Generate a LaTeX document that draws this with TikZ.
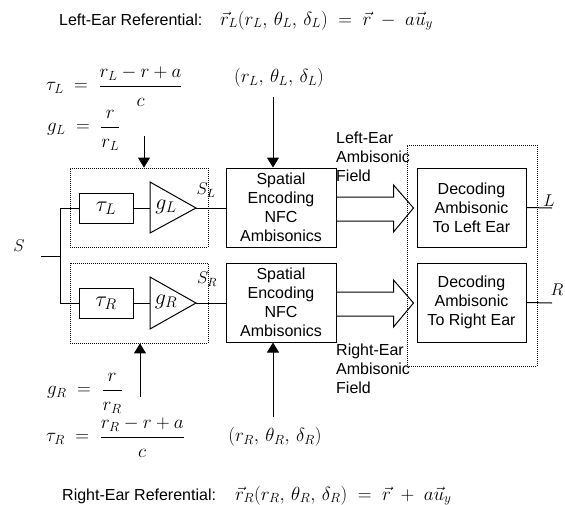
\RequirePackage{fix-cm}
\documentclass[tikz,border=0pt]{standalone}
\usepackage[no-math]{fontspec}
\setmainfont{Liberation Sans}
\usetikzlibrary{arrows.meta}
% font sizes used in the block diagram
\newcommand{\txtsz}{\fontsize{16}{19}\selectfont}
\newcommand{\eqsz}{\fontsize{19}{23}\selectfont}
\newcommand{\blksz}{\fontsize{22}{26}\selectfont}
\newcommand{\sigsz}{\fontsize{17}{20}\selectfont}
% display fraction with a lowered denominator
\newcommand{\lawfrac}[2]{{\displaystyle\frac{#1}{\rule{0pt}{1.0em}#2}}}

\begin{document}
\begin{tikzpicture}[x=1pt,y=-1pt,
  lbl/.style={font=\txtsz, inner sep=0pt},
  eqn/.style={font=\eqsz, inner sep=0pt},
  blk/.style={draw, line width=1pt, inner sep=0pt, align=center, font=\txtsz},
  dotbox/.style={draw, line width=0.8pt, dash pattern=on 1pt off 1pt, inner sep=0pt},
  wire/.style={line width=1pt},
  feed/.style={line width=1pt, -{Triangle[length=10pt,width=12pt]}},
  sig/.style={font=\sigsz, inner sep=0pt}]
\useasboundingbox (0,0) rectangle (565,504);

% --- dotted groupings -------------------------------------------------
\node[dotbox, minimum width=138, minimum height=79] (dotL) at (139,207.5) {};
\node[dotbox, minimum width=138, minimum height=80] (dotR) at (139,303) {};
\node[dotbox, minimum width=130, minimum height=221] (dotD) at (472,255.5) {};

% --- delay blocks -----------------------------------------------------
\node[blk, minimum width=54, minimum height=30, font=\blksz] (tauL) at (106,208) {$\tau_L$};
\node[blk, minimum width=54, minimum height=30, font=\blksz] (tauR) at (106,303) {$\tau_R$};

% --- gain triangles ---------------------------------------------------
\coordinate (gLin) at (150,208);
\coordinate (gLout) at (196,208);
\coordinate (gRin) at (150,303);
\coordinate (gRout) at (196,303);
\draw[wire] (150,182) -- (gLout) -- (150,233) -- cycle;
\draw[wire] (150,277) -- (gRout) -- (150,329) -- cycle;
\node[font=\blksz, inner sep=0pt] (gLlab) at (166,207) {$g_L$};
\node[font=\blksz, inner sep=0pt] (gRlab) at (166,302) {$g_R$};

% --- encoders and decoders --------------------------------------------
\node[blk, minimum width=110, minimum height=79] (encL) at (281,207.5) {Spatial\\Encoding\\NFC\\Ambisonics};
\node[blk, minimum width=110, minimum height=79] (encR) at (281,302.5) {Spatial\\Encoding\\NFC\\Ambisonics};
\node[blk, minimum width=109, minimum height=79] (decL) at (471.5,207.5) {Decoding\\Ambisonic\\To Left Ear};
\node[blk, minimum width=109, minimum height=79] (decR) at (471.5,302.5) {Decoding\\Ambisonic\\To Right Ear};

% --- signal wiring ----------------------------------------------------
\coordinate (sin) at (41,256);
\coordinate (br) at (60,256);
\draw[wire] (sin) -- (br);
\draw[wire] (br |- tauL) -- (br |- tauR);
\draw[wire] (br |- tauL) -- (tauL.west);
\draw[wire] (br |- tauR) -- (tauR.west);
\draw[wire] (tauL.east) -- (gLin);
\draw[wire] (tauR.east) -- (gRin);
\draw[wire] (gLout) -- (gLout -| encL.west);
\draw[wire] (gRout) -- (gRout -| encR.west);
\coordinate (outL) at (552,208);
\coordinate (outR) at (552,303);
\draw[wire] (decL.east) -- (outL);
\draw[wire] (decR.east) -- (outR);

% --- hollow field arrows ----------------------------------------------
\draw[wire] (encL.east) ++(0,-10.5) -- ++(57,0) -- ++(0,-12) -- ++(20,23) -- ++(-20,24) -- ++(0,-11) -- ++(-57,0);
\draw[wire] (encR.east) ++(0,-10.5) -- ++(57,0) -- ++(0,-12) -- ++(20,23) -- ++(-20,24) -- ++(0,-11) -- ++(-57,0);

% --- parameter feeds --------------------------------------------------
\coordinate (pL) at (144,136);
\coordinate (pLs) at (273,97);
\coordinate (pR) at (140,397);
\coordinate (pRs) at (273,417);
\draw[feed] (pL) -- (pL |- dotL.north);
\draw[feed] (pLs) -- (pLs |- encL.north);
\draw[feed] (pR) -- (pR |- dotR.south);
\draw[feed] (pRs) -- (pRs |- encR.south);

% --- signal names -----------------------------------------------------
\node[sig] (sS) at (19,246) {$S$};
\node[sig] (sSL) at (206,190) {$S_L$};
\node[sig] (sSR) at (207,279) {$S_R$};
\node[sig] (sLo) at (549,201) {$L$};
\node[sig] (sRo) at (557,290) {$R$};

% --- field captions ---------------------------------------------------
\node[lbl, anchor=west, align=left] (fldL) at (336,157) {Left-Ear\\Ambisonic\\Field};
\node[lbl, anchor=west, align=left] (fldR) at (336,369) {Right-Ear\\Ambisonic\\Field};

% --- referentials -----------------------------------------------------
\node[lbl, anchor=base west] (refL) at (59,25) {Left-Ear Referential:};
\node[eqn, anchor=base west] (eqL) at (220,25) {$\vec r_L(r_L,\,\theta_L,\,\delta_L) \;=\; \vec r \;-\; a\vec u_y$};
\node[lbl, anchor=base west] (refR) at (62,500) {Right-Ear Referential:};
\node[eqn, anchor=base west] (eqR) at (235,500) {$\vec r_R(r_R,\,\theta_R,\,\delta_R) \;=\; \vec r \;+\; a\vec u_y$};

% --- delay and gain laws ----------------------------------------------
\node[eqn, anchor=base west] (tauLeq) at (46,90.5) {$\tau_L \;=\; \lawfrac{r_L - r + a}{c}$};
\node[eqn, anchor=base west] (gLeq) at (47,131.5) {$g_L \;=\; \lawfrac{r}{r_L}$};
\node[eqn, anchor=base west] (gReq) at (47,394.5) {$g_R \;=\; \lawfrac{r}{r_R}$};
\node[eqn, anchor=base west] (tauReq) at (46,441.5) {$\tau_R \;=\; \lawfrac{r_R - r + a}{c}$};
\node[eqn] (posL) at (279,78) {$(r_L,\,\theta_L,\,\delta_L)$};
\node[eqn] (posR) at (275,437) {$(r_R,\,\theta_R,\,\delta_R)$};
\end{tikzpicture}
\end{document}
